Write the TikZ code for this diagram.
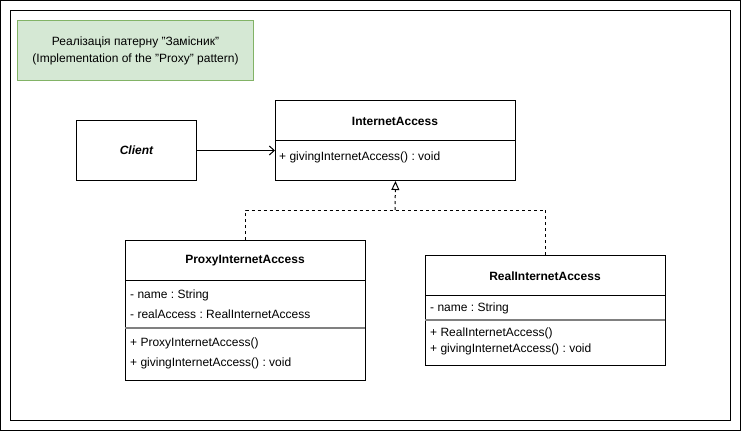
\documentclass[tikz,border=0pt]{standalone}
\usepackage{fontspec}
\setmainfont{Liberation Sans}
\usetikzlibrary{arrows.meta}
\definecolor{notefill}{HTML}{D5E8D4}
\definecolor{notedraw}{HTML}{82B366}
\frenchspacing
\begin{document}
\begin{tikzpicture}[x=1pt,y=-1pt,
  every node/.style={font=\fontsize{12}{14}\selectfont, inner sep=0pt},
  umlbox/.style={draw=black, line width=1pt, fill=white, anchor=north west},
  title/.style={font=\fontsize{12}{14}\selectfont\bfseries},
  member/.style={anchor=west},
  sep/.style={line width=1pt},
  attrsep/.style={line width=1.2pt, draw=gray},
  dep/.style={line width=1pt, dash pattern=on 3pt off 3pt},
]
\useasboundingbox (0,0) rectangle (741,431);
% frames
\draw[line width=1pt] (0.5,0.5) rectangle (740,430);
\draw[line width=1pt] (10,10) rectangle (730,420);
% note
\node[draw=notedraw, fill=notefill, line width=1pt, anchor=north west,
      minimum width=236pt, minimum height=60pt] (note) at (17,20) {};
\node[align=center, font=\fontsize{12}{17}\selectfont] (notetext) at (note.center)
  {Реалізація патерну "Замісник"\\(Implementation of the "Proxy" pattern)};
% client
\node[umlbox, minimum width=120pt, minimum height=60pt] (client) at (76,120) {};
\node[font=\fontsize{12}{14}\selectfont\bfseries\itshape] (clienttext) at (client.center) {Client};
% InternetAccess
\node[umlbox, minimum width=240pt, minimum height=80pt] (ia) at (275,100) {};
\node[title] (iatitle) at (395,121) {InternetAccess};
\draw[sep] (275,140) -- (515,140);
\node[member] (iam1) at (279,157) {+ givingInternetAccess() : void};
% ProxyInternetAccess
\node[umlbox, minimum width=240pt, minimum height=140pt] (proxy) at (125,240) {};
\node[title] (proxytitle) at (245,261) {ProxyInternetAccess};
\draw[sep] (125,280) -- (365,280);
\node[member] (pa1) at (130,295) {- name : String};
\node[member] (pa2) at (130,314) {- realAccess : RealInternetAccess};
\draw[attrsep] (125,328) -- (365,328);
\node[member] (pm1) at (130,343) {+ ProxyInternetAccess()};
\node[member] (pm2) at (130,363) {+ givingInternetAccess() : void};
% RealInternetAccess
\node[umlbox, minimum width=240pt, minimum height=110pt] (real) at (425,255) {};
\node[title] (realtitle) at (545,276) {RealInternetAccess};
\draw[sep] (425,295) -- (665,295);
\node[member] (ra1) at (430,308) {- name : String};
\draw[attrsep] (425,320) -- (665,320);
\node[member] (rm1) at (430,333) {+ RealInternetAccess()};
\node[member] (rm2) at (430,349) {+ givingInternetAccess() : void};
% connectors
\draw[line width=1pt, -{Straight Barb[length=5pt,width=9pt]}] (client.east) -- (ia.west |- client.east);
\coordinate (j) at (395,210);
\draw[dep] (proxy.north) |- (j);
\draw[dep] (real.north) |- (j);
\draw[dep, -{Triangle[open,length=9pt,width=8pt]}] (j) -- (ia.south);
\end{tikzpicture}
\end{document}
